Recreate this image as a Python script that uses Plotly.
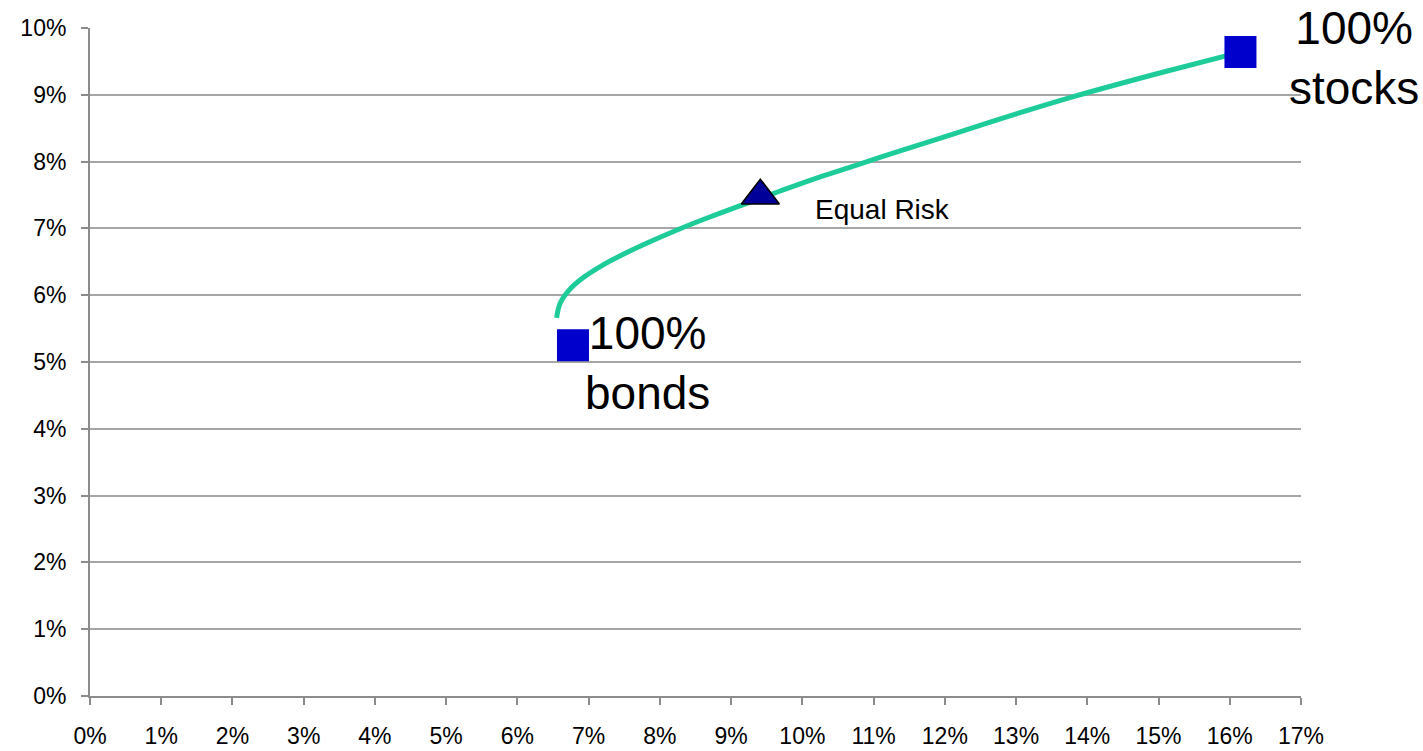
import plotly.graph_objects as go

# Efficient frontier curve (risk %, return %)
frontier_risk = [6.55, 6.60, 6.72, 6.92, 7.18, 7.50, 7.86, 8.25, 8.70, 9.18, 9.69,
                 10.22, 10.74, 11.34, 11.94, 12.78, 13.83, 15.03, 16.15]
frontier_ret = [5.66, 5.88, 6.07, 6.26, 6.44, 6.62, 6.80, 6.98, 7.17, 7.36, 7.56,
                7.76, 7.94, 8.15, 8.35, 8.64, 8.98, 9.33, 9.64]

# Corner portfolios
corner_names = ["100%<br>bonds", "100%<br>stocks"]
corner_risk = [6.78, 16.15]
corner_ret = [5.25, 9.64]

# Equal risk portfolio
eq_name = "Equal Risk"
eq_risk = [9.41]
eq_ret = [7.49]

x_ticks = list(range(0, 18))
y_ticks = list(range(0, 11))

FONT = "Arial, Liberation Sans, sans-serif"

fig = go.Figure()
fig.add_trace(go.Scatter(x=frontier_risk, y=frontier_ret, mode="lines",
                         line=dict(color="#1ECC9A", width=5, shape="spline", smoothing=1.0),
                         hoverinfo="skip", showlegend=False))
fig.add_trace(go.Scatter(x=corner_risk, y=corner_ret, mode="markers",
                         marker=dict(symbol="square", size=32, color="#0000CC"),
                         showlegend=False))
fig.add_trace(go.Scatter(x=eq_risk, y=eq_ret, mode="markers",
                         marker=dict(symbol="triangle-up", size=33, color="#000099",
                                     line=dict(color="black", width=1.5)),
                         showlegend=False))

# Labels
fig.add_annotation(x=7.83, y=4.98, text=corner_names[0], showarrow=False,
                   font=dict(size=46, color="black", family=FONT), xanchor="center", yanchor="middle")
fig.add_annotation(x=17.75 / 17, y=0.955, xref="paper", yref="paper", text=corner_names[1],
                   showarrow=False, font=dict(size=46, color="black", family=FONT),
                   xanchor="center", yanchor="middle")
fig.add_annotation(x=10.15, y=7.29, text=eq_name, showarrow=False,
                   font=dict(size=28, color="black", family=FONT), xanchor="left", yanchor="middle")

fig.update_layout(
    width=1423, height=751,
    margin=dict(l=90, r=122, t=28, b=55),
    paper_bgcolor="white", plot_bgcolor="white",
    font=dict(family=FONT, color="black", size=24),
    showlegend=False,
)
fig.update_xaxes(range=[0, 17], tickvals=x_ticks, ticktext=[f"{v}%" for v in x_ticks],
                 showgrid=False, zeroline=False, showline=True, linecolor="#8C8C8C", linewidth=2,
                 ticks="outside", ticklen=7, tickcolor="#8C8C8C", tickwidth=2,
                 ticklabelstandoff=11, automargin=False, tickfont=dict(size=23, color="black"))
fig.update_yaxes(range=[0, 10], tickvals=y_ticks, ticktext=[f"{v}%" for v in y_ticks],
                 showgrid=True, gridcolor="#A6A6A6", gridwidth=1.5, zeroline=False,
                 showline=True, linecolor="#8C8C8C", linewidth=2,
                 ticks="outside", ticklen=7, tickcolor="#8C8C8C", tickwidth=2,
                 ticklabelstandoff=10, automargin=False, tickfont=dict(size=23, color="black"))

fig.write_html("out.html")
